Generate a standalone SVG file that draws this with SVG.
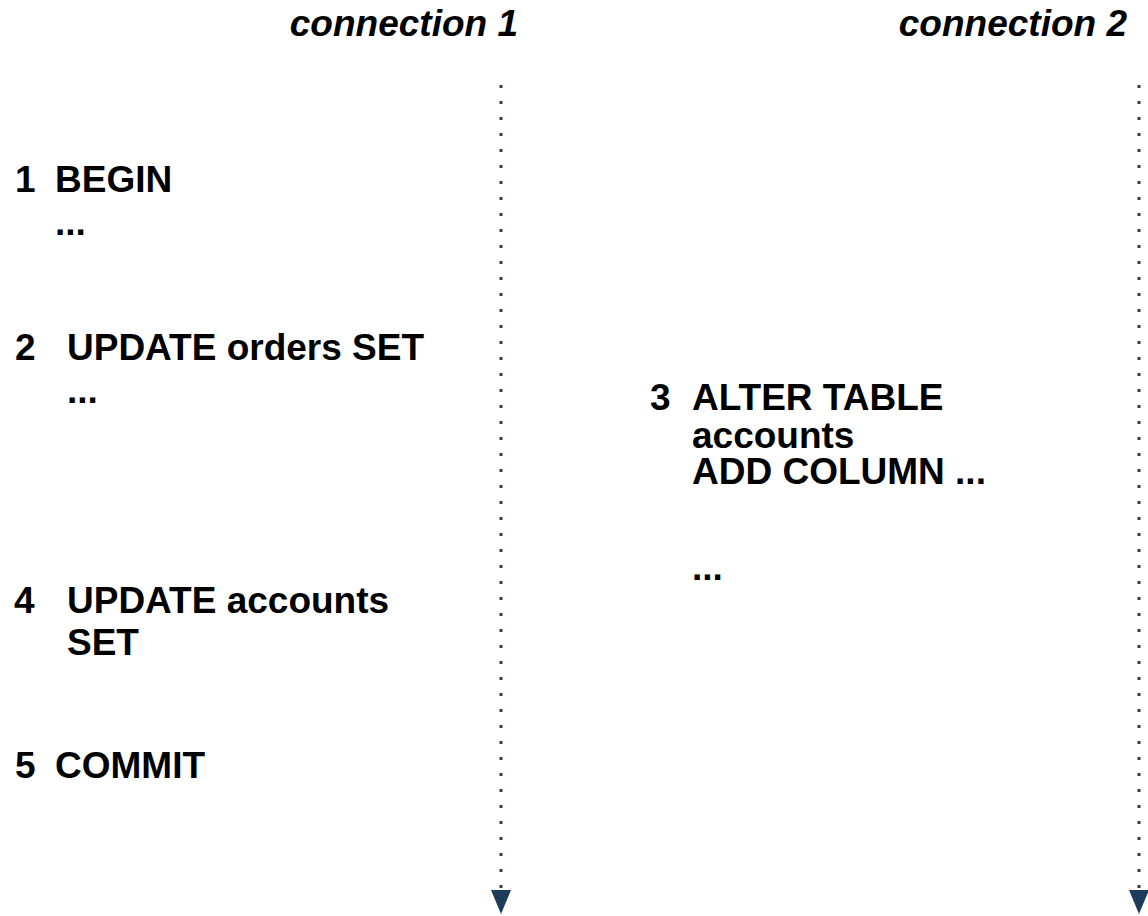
<svg xmlns="http://www.w3.org/2000/svg" width="1148" height="916" viewBox="0 0 1148 916">
<style>
text{font-family:"Liberation Sans",Arial,sans-serif;font-weight:bold;font-size:37px;fill:#000}
.hdr{font-style:italic;text-anchor:end}
.life{stroke:#2e3c4c;stroke-width:3;stroke-dasharray:3 13;fill:none}
</style>
<defs>
<marker id="arr" viewBox="0 -10 24 20" refX="0" refY="0" markerWidth="24" markerHeight="20" markerUnits="userSpaceOnUse" orient="auto">
<path d="M0,-10 L24,0 L0,10 z" fill="#1d3c5b"/>
</marker>
</defs>
<rect width="1148" height="916" fill="#fff"/>
<g id="connectors">
<line class="life" x1="501" y1="85" x2="501" y2="890" marker-end="url(#arr)"/>
<line class="life" x1="1139" y1="85" x2="1139" y2="890" marker-end="url(#arr)"/>
</g>
<g id="header1"><text class="hdr" x="518" y="36">connection 1</text></g>
<g id="header2"><text class="hdr" x="1127" y="36">connection 2</text></g>
<g id="step1">
<text x="15" y="192">1</text>
<text x="55" y="192">BEGIN<tspan x="55" y="235">...</tspan></text>
</g>
<g id="step2">
<text x="15" y="360">2</text>
<text x="67" y="360">UPDATE orders SET<tspan x="67" y="403">...</tspan></text>
</g>
<g id="step3">
<text x="650" y="410">3</text>
<text x="692" y="410">ALTER TABLE<tspan x="692" y="448">accounts</tspan><tspan x="692" y="484">ADD COLUMN ...</tspan></text>
<text x="692" y="580">...</text>
</g>
<g id="step4">
<text x="14" y="613">4</text>
<text x="67" y="613">UPDATE accounts<tspan x="67" y="655">SET</tspan></text>
</g>
<g id="step5">
<text x="15" y="778">5</text><text x="55" y="778">COMMIT</text>
</g>
</svg>
